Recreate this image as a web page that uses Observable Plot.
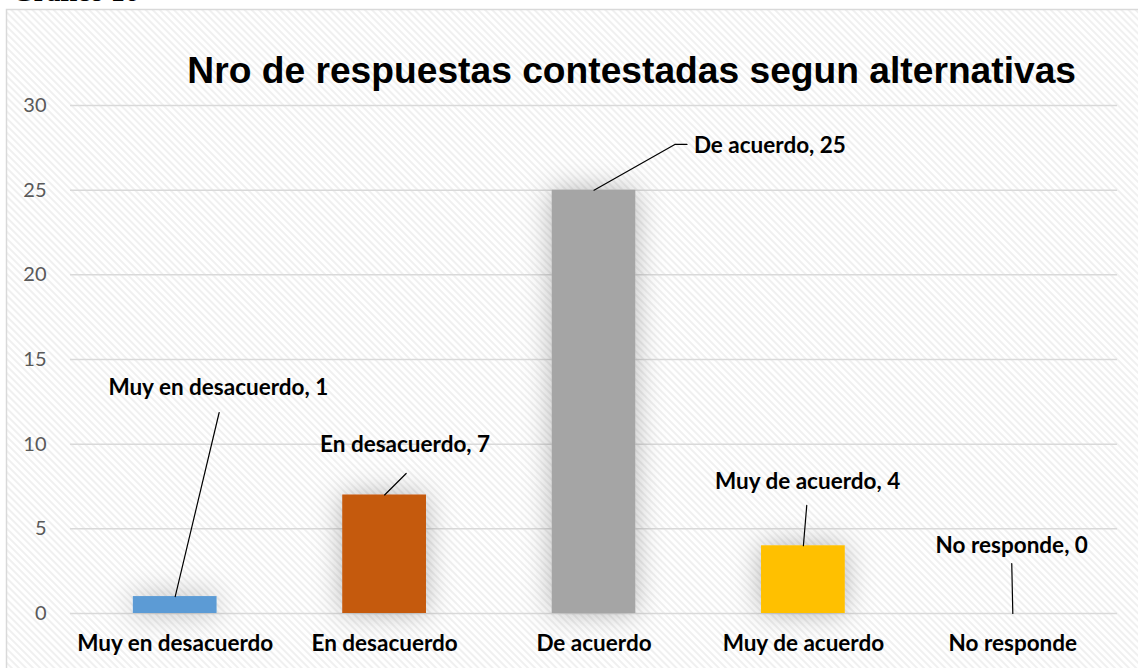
<!DOCTYPE html>
<html>
<head>
<meta charset="utf-8">
<script src="https://cdn.jsdelivr.net/npm/d3@7"></script>
<script src="https://cdn.jsdelivr.net/npm/@observablehq/plot@0.6"></script>
<style>
  html, body { margin: 0; padding: 0; background: #fff; }
  #wrap { position: relative; width: 1138px; height: 668px; overflow: hidden; }
  #fig { position: absolute; left: 12px; top: -24px; font-family: "Liberation Serif", serif; font-weight: bold; font-size: 28px; line-height: 32px; color: #000; white-space: nowrap; }
  #chart { position: absolute; left: 0; top: 0; }
</style>
</head>
<body>
<div id="wrap">
  <div id="chart"></div>
  <div id="fig">Gráfico 16</div>
</div>
<script>
// ---- data ----
const categories = ["Muy en desacuerdo", "En desacuerdo", "De acuerdo", "Muy de acuerdo", "No responde"];
const counts = [1, 7, 25, 4, 0];
const colors = ["#5B9BD5", "#C55A11", "#A5A5A5", "#FFC000", "#70AD47"];
const yTicks = [0, 5, 10, 15, 20, 25, 30];
const title = "Nro de respuestas contestadas segun alternativas";

// ---- label layout (category-unit offsets and value-unit heights) ----
const labelDx = [0.206, 0.098, 0.84, 0.02, -0.005];
const labelY = [13.3, 9.98, 27.64, 7.8, 4.0];
// leader line waypoints after the bar top: [dx, y]
const leaderPts = [
  [[0.21, 11.87]],
  [[0.103, 8.27]],
  [[0.386, 27.7], [0.444, 27.7]],
  [[0.016, 6.38]],
  [[-0.005, 2.95]]
];

const data = categories.map((c, i) => ({i, category: c, value: counts[i], color: colors[i]}));
const labels = data.map(d => ({x: d.i + labelDx[d.i], y: labelY[d.i], text: `${d.category}, ${d.value}`}));
const leaders = data.flatMap(d => [
  {id: d.i, x: d.i, y: d.value},
  ...leaderPts[d.i].map(([dx, y]) => ({id: d.i, x: d.i + dx, y}))
]);
const barHalf = 0.2;

const plot = Plot.plot({
  width: 1138,
  height: 668,
  marginLeft: 70,
  marginRight: 21,
  marginTop: 105,
  marginBottom: 55,
  style: {fontFamily: "Lato, 'Open Sans', sans-serif", color: "#595959", background: "transparent"},
  x: {type: "linear", domain: [-0.5, 4.5], axis: null, label: null},
  y: {domain: [0, 30], axis: null, label: null},
  marks: [
    Plot.ruleY(yTicks, {stroke: "#d9d9d9", strokeWidth: 1.5}),
    Plot.rectY(data.filter(d => d.value > 0), {
      x1: d => d.i - barHalf, x2: d => d.i + barHalf, y1: 0, y2: "value", fill: "color"
    }),
    Plot.line(leaders, {x: "x", y: "y", z: "id", stroke: "#000", strokeWidth: 1.2, curve: "linear"}),
    Plot.text(labels, {x: "x", y: "y", text: "text", fontSize: 22.5, fontWeight: "bold", fill: "#000"}),
    Plot.axisY(yTicks, {tickSize: 0, tickPadding: 24, fontSize: 20, fill: "#595959", label: null}),
    Plot.axisX(d3.range(categories.length), {tickSize: 0, tickPadding: 22, tickFormat: i => categories[i], fontSize: 22.5, fontWeight: "bold", fill: "#000", label: null}),
    Plot.text([title], {frameAnchor: "top", dy: -23, x: 2.18, text: d => d, fontFamily: "'Liberation Sans', Arial, sans-serif", fontWeight: "bold", fontSize: 37.2, fill: "#000", lineAnchor: "bottom"})
  ]
});

const svg = d3.select(plot);
const defs = svg.insert("defs", ":first-child");
const pat = defs.append("pattern")
  .attr("id", "hatch").attr("patternUnits", "userSpaceOnUse")
  .attr("width", 5).attr("height", 5)
  .attr("patternTransform", "rotate(-45)");
pat.append("rect").attr("width", 5).attr("height", 5).attr("fill", "#ffffff");
pat.append("rect").attr("width", 2).attr("height", 5).attr("fill", "#f0f0f0");
const flt = defs.append("filter").attr("id", "glow").attr("filterUnits", "userSpaceOnUse")
  .attr("x", 0).attr("y", 0).attr("width", 1138).attr("height", 668);
flt.append("feGaussianBlur").attr("in", "SourceAlpha").attr("stdDeviation", 14).attr("result", "b");
flt.append("feFlood").attr("flood-color", "#000").attr("flood-opacity", 0.28).attr("result", "c");
flt.append("feComposite").attr("in", "c").attr("in2", "b").attr("operator", "in").attr("result", "s");
const mg = flt.append("feMerge");
mg.append("feMergeNode").attr("in", "s");
mg.append("feMergeNode").attr("in", "SourceGraphic");

svg.insert("rect", "defs + *")
  .attr("x", 6.5).attr("y", 9.5).attr("width", 1160).attr("height", 700)
  .attr("fill", "url(#hatch)").attr("stroke", "#d9d9d9").attr("stroke-width", 1.5);
svg.selectAll("g[aria-label=rect]").attr("filter", "url(#glow)");

document.getElementById("chart").appendChild(plot);
</script>
</body>
</html>
